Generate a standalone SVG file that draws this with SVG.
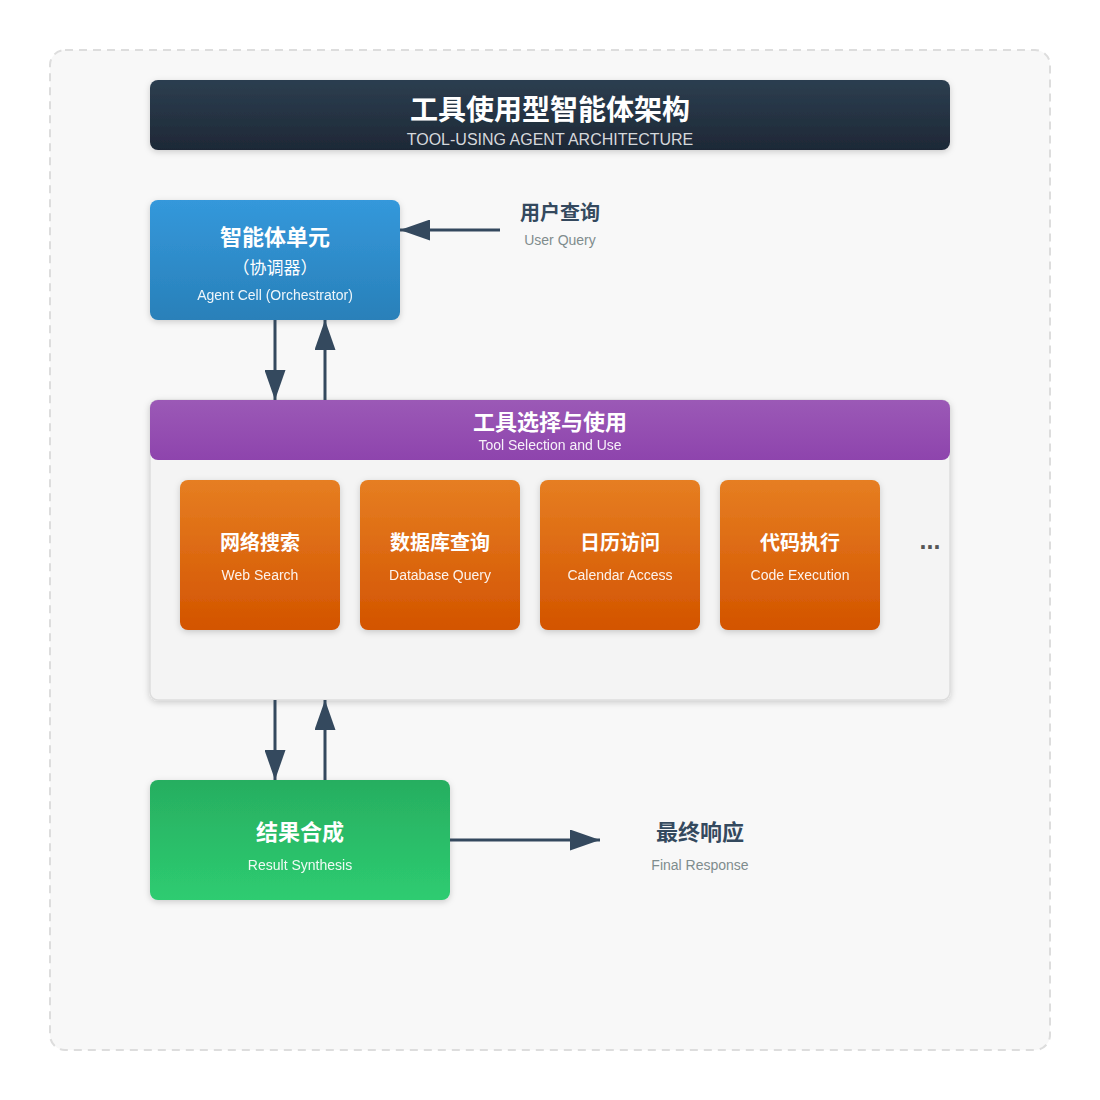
<svg xmlns="http://www.w3.org/2000/svg" width="1100" height="1100" viewBox="0 0 1100 1100">
  <defs>
    <linearGradient id="gTitle" x1="0" y1="0" x2="0" y2="1">
      <stop offset="0" stop-color="#2c3e50"/>
      <stop offset="1" stop-color="#1e2836"/>
    </linearGradient>
    <linearGradient id="gBlue" x1="0" y1="0" x2="0" y2="1">
      <stop offset="0" stop-color="#3498db"/>
      <stop offset="1" stop-color="#2980b9"/>
    </linearGradient>
    <linearGradient id="gPurple" x1="0" y1="0" x2="0" y2="1">
      <stop offset="0" stop-color="#9b59b6"/>
      <stop offset="1" stop-color="#8e44ad"/>
    </linearGradient>
    <linearGradient id="gOrange" x1="0" y1="0" x2="0" y2="1">
      <stop offset="0" stop-color="#e67e22"/>
      <stop offset="1" stop-color="#d35400"/>
    </linearGradient>
    <linearGradient id="gGreen" x1="0" y1="0" x2="0" y2="1">
      <stop offset="0" stop-color="#27ae60"/>
      <stop offset="1" stop-color="#2ecc71"/>
    </linearGradient>
    <filter id="shadow" x="-10%" y="-10%" width="120%" height="130%">
      <feDropShadow dx="0" dy="2" stdDeviation="3" flood-color="#000" flood-opacity="0.18"/>
    </filter>
    <marker id="arrow" viewBox="0 0 10 7" refX="10" refY="3.5" markerWidth="10" markerHeight="7" orient="auto">
      <polygon points="0 0, 10 3.5, 0 7" fill="#34495e"/>
    </marker>
  </defs>
  <style>
    text { font-family: "Liberation Sans", "Noto Sans CJK SC", sans-serif; text-anchor: middle; dominant-baseline: central; }
    .h { font-weight: bold; fill: #ffffff; }
    .s { fill: #ffffff; font-size: 14px; opacity: 0.92; }
    .lh { font-weight: bold; fill: #34495e; }
    .ls { fill: #7f8c8d; font-size: 14px; }
    .conn { stroke: #34495e; stroke-width: 3; fill: none; marker-end: url(#arrow); }
  </style>

  <rect x="50" y="50" width="1000" height="1000" rx="15" fill="#f8f8f8" stroke="#dddddd" stroke-width="2" stroke-dasharray="8 6"/>

  <g id="title">
    <rect x="150" y="80" width="800" height="70" rx="8" fill="url(#gTitle)" filter="url(#shadow)"/>
    <text x="550" y="110" class="h" font-size="28">工具使用型智能体架构</text>
    <text x="550" y="139" font-size="16" fill="#d5d8dc">TOOL-USING AGENT ARCHITECTURE</text>
  </g>

  <g id="agent-cell">
    <rect x="150" y="200" width="250" height="120" rx="8" fill="url(#gBlue)" filter="url(#shadow)"/>
    <text x="275" y="237" class="h" font-size="22">智能体单元</text>
    <text x="275" y="268" fill="#ffffff" font-size="17">（协调器）</text>
    <text x="275" y="295" class="s">Agent Cell (Orchestrator)</text>
  </g>

  <g id="user-query">
    <text x="560" y="213" class="lh" font-size="20">用户查询</text>
    <text x="560" y="240" class="ls">User Query</text>
  </g>

  <g id="tool-selection">
    <rect x="150" y="400" width="800" height="300" rx="8" fill="#f4f4f4" stroke="#dddddd" stroke-width="1.5" filter="url(#shadow)"/>
    <rect x="150" y="400" width="800" height="60" rx="8" fill="url(#gPurple)"/>
    <text x="550" y="422" class="h" font-size="22">工具选择与使用</text>
    <text x="550" y="445" class="s" fill="#f3e5f8">Tool Selection and Use</text>
  </g>

  <g id="tool-web-search">
    <rect x="180" y="480" width="160" height="150" rx="8" fill="url(#gOrange)" filter="url(#shadow)"/>
    <text x="260" y="543" class="h" font-size="20">网络搜索</text>
    <text x="260" y="575" class="s">Web Search</text>
  </g>
  <g id="tool-database-query">
    <rect x="360" y="480" width="160" height="150" rx="8" fill="url(#gOrange)" filter="url(#shadow)"/>
    <text x="440" y="543" class="h" font-size="20">数据库查询</text>
    <text x="440" y="575" class="s">Database Query</text>
  </g>
  <g id="tool-calendar-access">
    <rect x="540" y="480" width="160" height="150" rx="8" fill="url(#gOrange)" filter="url(#shadow)"/>
    <text x="620" y="543" class="h" font-size="20">日历访问</text>
    <text x="620" y="575" class="s">Calendar Access</text>
  </g>
  <g id="tool-code-execution">
    <rect x="720" y="480" width="160" height="150" rx="8" fill="url(#gOrange)" filter="url(#shadow)"/>
    <text x="800" y="543" class="h" font-size="20">代码执行</text>
    <text x="800" y="575" class="s">Code Execution</text>
  </g>
  <g id="tool-more">
    <text x="930" y="540" font-size="25" font-weight="bold" fill="#555555">...</text>
  </g>

  <g id="result-synthesis">
    <rect x="150" y="780" width="300" height="120" rx="8" fill="url(#gGreen)" filter="url(#shadow)"/>
    <text x="300" y="832" class="h" font-size="22">结果合成</text>
    <text x="300" y="865" class="s">Result Synthesis</text>
  </g>

  <g id="final-response">
    <text x="700" y="832" class="lh" font-size="22">最终响应</text>
    <text x="700" y="865" class="ls">Final Response</text>
  </g>

  <g id="connectors">
    <line x1="500" y1="230" x2="400" y2="230" class="conn"/>
    <line x1="275" y1="320" x2="275" y2="400" class="conn"/>
    <line x1="325" y1="400" x2="325" y2="320" class="conn"/>
    <line x1="275" y1="700" x2="275" y2="780" class="conn"/>
    <line x1="325" y1="780" x2="325" y2="700" class="conn"/>
    <line x1="450" y1="840" x2="600" y2="840" class="conn"/>
  </g>
</svg>
